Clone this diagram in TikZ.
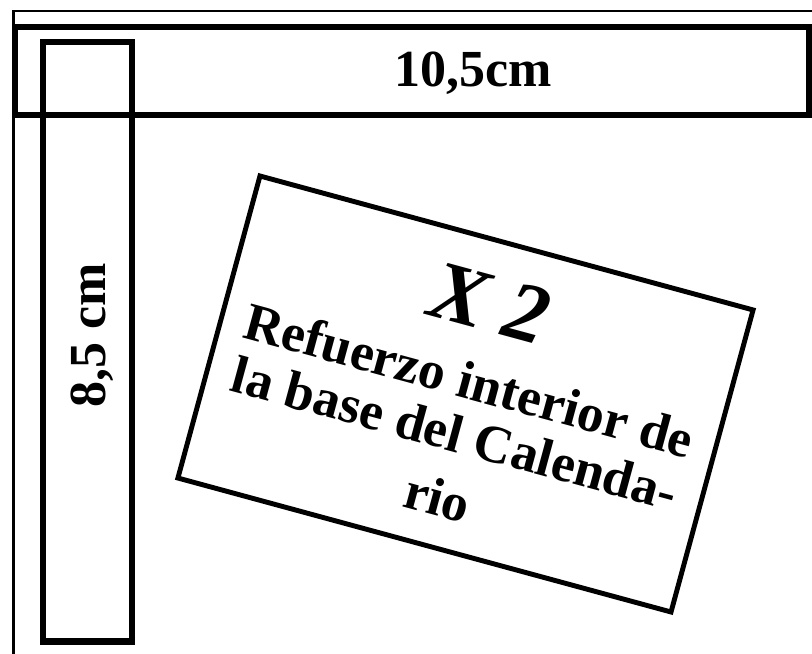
\documentclass[tikz,border=0pt]{standalone}
\usepackage{fontspec}
\setmainfont{Liberation Serif}
\usetikzlibrary{positioning}

\begin{document}
\begin{tikzpicture}[font=\bfseries]
%	\draw [help lines] (0,0) grid (20,16);
	\useasboundingbox (0,0) rectangle (20.3,16.35);
	\draw [line width=1.6pt] (0.3375,0) -- (0.3375,16.075) -- (20.3,16.075);
	\draw [line width=4.3pt] (0.375,13.475) rectangle (20.2375,15.675);
	\draw [line width=4.3pt] (1.075,0.3125) rectangle (3.3,15.3);
	\node (ancho) [anchor=base] at (11.825,14.175) {\fontsize{37}{44}\selectfont 10,5cm};
	\node (alto) [anchor=base, rotate=90] at (2.625,7.96) {\fontsize{37}{44}\selectfont 8,5 cm};
	\begin{scope}[shift={(11.6375,6.5)}, rotate=-15.2, transform shape]
		\draw [line width=3.5pt] (-6.3875,-3.9125) rectangle (6.3875,3.9125);
		\node (veces) at (0,2.36) {\fontsize{60}{60}\selectfont\itshape X 2};
		\node (texto) [align=center, font=\bfseries\fontsize{38}{39}\selectfont] at (0,-1.15) {Refuerzo interior de\\la base del Calenda-\\[8pt]rio};
	\end{scope}
\end{tikzpicture}
\end{document}
